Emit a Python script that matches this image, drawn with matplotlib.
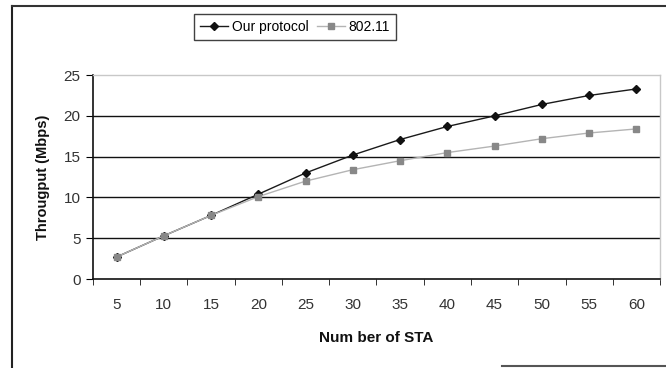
import numpy as np
import matplotlib
matplotlib.use("Agg")
import matplotlib.pyplot as plt
from matplotlib.lines import Line2D

# data
sta = [5, 10, 15, 20, 25, 30, 35, 40, 45, 50, 55, 60]
ours = [2.7, 5.3, 7.8, 10.4, 13.0, 15.2, 17.1, 18.7, 20.0, 21.4, 22.5, 23.3]
dot11 = [2.7, 5.3, 7.8, 10.1, 12.0, 13.4, 14.5, 15.5, 16.3, 17.2, 17.9, 18.4]
yticks = [0, 5, 10, 15, 20, 25]

plt.rcParams.update({"font.family": ["Liberation Sans Narrow", "Liberation Sans", "DejaVu Sans"]})

fig = plt.figure(figsize=(6.66, 3.68), dpi=100, facecolor="white")
ax = fig.add_axes([0.1396, 0.2418, 0.8514, 0.5542])

ax.plot(sta, ours, color="#1a1a1a", lw=1.0, marker="D", ms=4.5,
        mfc="#111111", mec="#111111", label="Our protocol", zorder=3)
ax.plot(sta, dot11, color="#b4b4b4", lw=1.0, marker="s", ms=5,
        mfc="#888888", mec="#888888", label="802.11", zorder=4)

ax.set_xlim(2.5, 62.5)
ax.set_ylim(0, 25)
ax.set_yticks(yticks)
ax.set_xticks(sta)
ax.set_xticks(np.arange(2.5, 63, 5), minor=True)
ax.tick_params(axis="x", which="major", length=0, pad=14, labelsize=11, labelcolor="#333333")
ax.tick_params(axis="x", which="minor", length=4, direction="out", color="#111111")
ax.tick_params(axis="y", length=5, direction="out", labelsize=11, labelcolor="#333333", pad=4)

for v in yticks[1:-1]:
    ax.axhline(v, color="#111111", lw=1.0, zorder=1)
for sp in ("left", "bottom"):
    ax.spines[sp].set_color("#111111")
    ax.spines[sp].set_linewidth(1.2)
for sp in ("top", "right"):
    ax.spines[sp].set_color("#c8c8c8")
    ax.spines[sp].set_linewidth(1.0)

ax.set_xlabel("Num ber of STA", fontsize=11, fontweight="bold", color="#111111", labelpad=13)
ax.set_ylabel("Througput (Mbps)", fontsize=10.5, fontweight="bold", color="#111111", labelpad=10)

leg = fig.legend(loc="center", bbox_to_anchor=(295 / 666, 1 - 27 / 368),
                 ncol=2, frameon=True, fancybox=False, edgecolor="#111111",
                 fontsize=10, handlelength=2.0, handletextpad=0.3, columnspacing=0.6,
                 borderpad=0.45)
leg.get_frame().set_linewidth(1.0)

# outer chart border
W, H = 666, 368
fig.add_artist(Line2D([12 / W, 12 / W], [1 - 6 / H, 0], color="#222222", lw=1.5))
fig.add_artist(Line2D([12 / W, 1], [1 - 6 / H, 1 - 6 / H], color="#333333", lw=1.5))
fig.add_artist(Line2D([502 / W, 1], [1 - 366 / H, 1 - 366 / H], color="#555555", lw=1.5))

fig.savefig("out.png", dpi=100, facecolor="white")
